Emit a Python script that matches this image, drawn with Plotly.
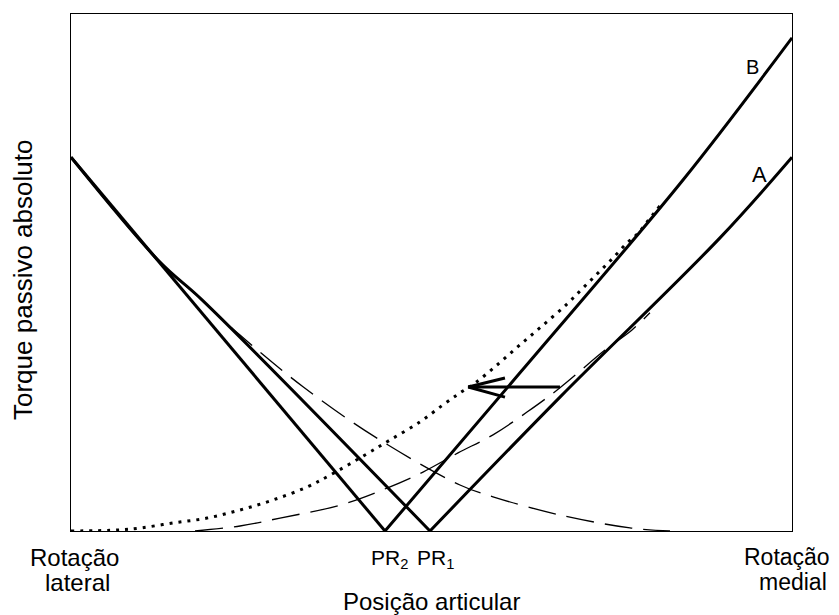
import plotly.graph_objects as go

# ---- data (x: joint position 0..100, y: absolute passive torque 0..100) ----
pr2 = 43.55
pr1 = 49.79

# net torque, lateral side (to PR2 and to PR1)
lat_to_pr2_x = [0.0, 12.34, 43.55]
lat_to_pr2_y = [72.3, 51.8, 0.0]
lat_to_pr1_x = [0.0, 12.34, 18.17, 49.79]
lat_to_pr1_y = [72.3, 52.0, 44.7, 0.0]

# net torque, medial side A (from PR1) and B (from PR2)
a_x = [49.79, 67.82, 90.01, 100.0]
a_y = [0.0, 25.9, 56.7, 72.3]
b_x = [43.55, 62.27, 84.88, 100.0]
b_y = [0.0, 30.6, 67.9, 95.4]

# lateral muscle passive torque (dashed)
lat_musc_x = [0.0, 6.0, 12.34, 18.2, 23.44, 32.18, 42.16, 53.95, 58.53, 67.82, 77.53, 83.08]
lat_musc_y = [72.3, 62.0, 52.0, 44.6, 37.9, 27.9, 18.2, 8.9, 6.6, 3.1, 0.6, 0.0]

# medial muscle passive torque, condition A (dashed)
medA_x = [17.2, 23.44, 28.99, 37.31, 43.83, 48.82, 53.68, 58.53, 63.25, 67.82, 74.06, 77.81, 80.3]
medA_y = [0.0, 0.97, 2.5, 5.0, 8.3, 11.4, 15.1, 18.6, 23.0, 27.7, 35.0, 38.9, 42.2]

# medial muscle passive torque, condition B (dotted)
medB_x = [0.0, 6.38, 9.57, 14.15, 18.86, 23.44, 28.02, 32.73, 35.92, 40.78, 44.24, 48.4,
          51.6, 53.95, 56.03, 59.08, 62.27, 65.46, 68.79, 70.87, 72.95, 75.03, 77.12,
          78.64, 80.03, 81.69]
medB_y = [0.0, 0.19, 0.58, 1.55, 2.5, 4.06, 6.0, 8.5, 10.8, 14.7, 17.6, 21.1,
          24.4, 26.7, 28.6, 32.1, 36.0, 39.8, 43.9, 46.8, 49.7, 52.6, 55.7,
          57.6, 60.0, 62.9]

# arrow (shift of the curve)
arrow_shaft_x = [67.82, 55.1]
arrow_shaft_y = [27.85, 27.85]
arrow_head_x = [60.19, 55.1, 60.19]
arrow_head_y = [29.6, 27.85, 25.9]

tick_left = ["Rotação", "lateral"]
tick_right = ["Rotação", "medial"]
x_title = "Posição articular"
y_title = "Torque passivo absoluto"

FONT = "Arial, Liberation Sans, Helvetica, sans-serif"

fig = go.Figure()

dashed = dict(color="black", width=1.3, dash="28px,11px")
solid = dict(color="black", width=3)

fig.add_trace(go.Scatter(x=lat_musc_x, y=lat_musc_y, mode="lines", line=dashed, line_shape="spline"))
fig.add_trace(go.Scatter(x=medA_x, y=medA_y, mode="lines", line=dashed, line_shape="spline"))
fig.add_trace(go.Scatter(x=medB_x, y=medB_y, mode="lines",
                         line=dict(color="black", width=3, dash="3px,6px"), line_shape="spline"))

fig.add_trace(go.Scatter(x=lat_to_pr2_x, y=lat_to_pr2_y, mode="lines", line=solid))
fig.add_trace(go.Scatter(x=lat_to_pr1_x, y=lat_to_pr1_y, mode="lines", line=solid, line_shape="spline"))
fig.add_trace(go.Scatter(x=a_x, y=a_y, mode="lines", line=solid, line_shape="spline"))
fig.add_trace(go.Scatter(x=b_x, y=b_y, mode="lines", line=solid, line_shape="spline"))
fig.add_trace(go.Scatter(x=arrow_shaft_x, y=arrow_shaft_y, mode="lines", line=solid))
fig.add_trace(go.Scatter(x=arrow_head_x, y=arrow_head_y, mode="lines", line=solid))

# the page body has an 8px margin, so the figure is drawn 8px right/down
OFF = 8
W, H = 839 - 2 * OFF, 615 - OFF
L, T = 71 - OFF, 14 - OFF
R = W - (792 - OFF)
B = H - (531 - OFF)
pw, ph = W - L - R, H - T - B


def py(p):
    # p: viewport pixel row in the reference
    return (H - B - (p - OFF)) / ph


def px(p):
    # p: viewport pixel column in the reference
    return ((p - OFF) - L) / pw


ann = []
fs = 24
ann.append(dict(text=tick_left[0], x=px(74), y=py(557), xref="paper", yref="paper",
                showarrow=False, font=dict(size=fs), xanchor="center", yanchor="middle"))
ann.append(dict(text=tick_left[1], x=px(77), y=py(582), xref="paper", yref="paper",
                showarrow=False, font=dict(size=fs), xanchor="center", yanchor="middle"))
ann.append(dict(text=tick_right[0], x=px(787), y=py(557), xref="paper", yref="paper",
                showarrow=False, font=dict(size=23), xanchor="center", yanchor="middle"))
ann.append(dict(text=tick_right[1], x=px(793), y=py(582), xref="paper", yref="paper",
                showarrow=False, font=dict(size=23), xanchor="center", yanchor="middle"))
ann.append(dict(text="PR<sub>2</sub>", x=pr2, y=py(559), xref="x", yref="paper", xshift=4,
                showarrow=False, font=dict(size=21), xanchor="center", yanchor="middle"))
ann.append(dict(text="PR<sub>1</sub>", x=pr1, y=py(559), xref="x", yref="paper", xshift=6,
                showarrow=False, font=dict(size=21), xanchor="center", yanchor="middle"))
ann.append(dict(text=x_title, x=px(431), y=py(601), xref="paper", yref="paper",
                showarrow=False, font=dict(size=fs), xanchor="center", yanchor="middle"))
ann.append(dict(text=y_title, x=px(23), y=py(280), xref="paper", yref="paper", textangle=-90,
                showarrow=False, font=dict(size=26), xanchor="center", yanchor="middle"))
ann.append(dict(text="B", x=px(752), y=py(67), xref="paper", yref="paper",
                showarrow=False, font=dict(size=20), xanchor="center", yanchor="middle"))
ann.append(dict(text="A", x=px(759), y=py(175), xref="paper", yref="paper",
                showarrow=False, font=dict(size=22), xanchor="center", yanchor="middle"))

axis_common = dict(showgrid=False, zeroline=False, showticklabels=False, ticks="",
                   showline=True, mirror=True, linecolor="black", linewidth=1.3,
                   range=[0, 100], fixedrange=True)

fig.update_layout(
    width=W, height=H,
    margin=dict(l=L, r=R, t=T, b=B, pad=0),
    paper_bgcolor="white", plot_bgcolor="white",
    showlegend=False,
    font=dict(family=FONT, color="black"),
    xaxis=axis_common,
    yaxis=axis_common,
    annotations=ann,
)

fig.write_html("out.html")
